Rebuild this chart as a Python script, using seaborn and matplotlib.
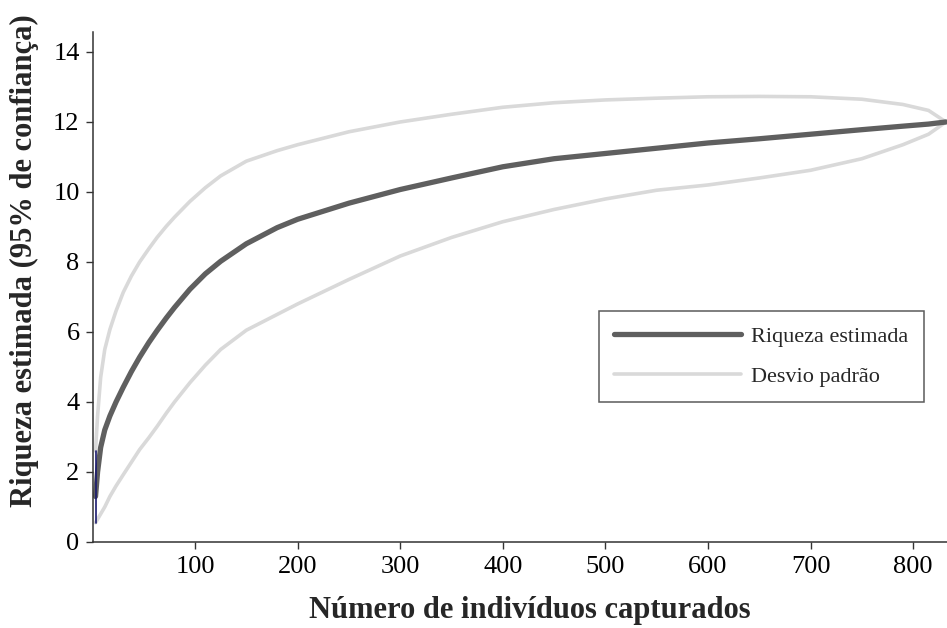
import numpy as np
import pandas as pd
import seaborn as sns
from matplotlib import pyplot as plt

# individuals captured (x) and richness curves
n_ind = [3, 5, 8, 12, 17, 23, 30, 38, 46, 55, 63, 72, 80, 95, 110, 125, 150, 180, 200, 250, 300,
         350, 400, 450, 500, 550, 600, 650, 700, 750, 790, 815, 832]
riqueza = [1.3, 2.0, 2.7, 3.2, 3.6, 4.0, 4.42, 4.87, 5.28, 5.7, 6.04, 6.4, 6.7, 7.22, 7.66, 8.02,
           8.52, 8.98, 9.22, 9.68, 10.07,
           10.4, 10.72, 10.95, 11.1, 11.25, 11.4, 11.52, 11.65, 11.78, 11.88, 11.94, 12.0]
desvio_sup = [2.6, 3.6, 4.7, 5.5, 6.07, 6.6, 7.13, 7.6, 8.0, 8.38, 8.7, 9.02, 9.28, 9.73, 10.12,
              10.46, 10.88, 11.18, 11.35, 11.72, 12.0,
              12.22, 12.42, 12.55, 12.63, 12.68, 12.72, 12.73, 12.72, 12.65, 12.5, 12.33, 12.0]
desvio_inf = [0.55, 0.65, 0.8, 1.0, 1.3, 1.6, 1.92, 2.28, 2.64, 2.98, 3.3, 3.68, 4.0, 4.55, 5.05,
              5.5, 6.05, 6.5, 6.8, 7.5, 8.17,
              8.7, 9.15, 9.5, 9.8, 10.05, 10.2, 10.4, 10.62, 10.95, 11.35, 11.65, 12.0]

x_ticks = [100, 200, 300, 400, 500, 600, 700, 800]
y_ticks = [0, 2, 4, 6, 8, 10, 12, 14]

df = pd.DataFrame({'n': n_ind, 'riq': riqueza, 'sup': desvio_sup, 'inf': desvio_inf})

sns.set_style('ticks')
plt.rcParams['font.family'] = ['Liberation Serif', 'DejaVu Serif']

fig = plt.figure(figsize=(9.47, 6.28), dpi=100)
ax = fig.add_axes([0.0987, 0.137, 0.9013, 0.812])

light = '#d9d9d9'
dark = '#5f5f5f'

sns.lineplot(data=df, x='n', y='sup', color=light, linewidth=2.6, ax=ax, label='Desvio padrão', sort=False)
sns.lineplot(data=df, x='n', y='inf', color=light, linewidth=2.6, ax=ax, sort=False)
sns.lineplot(data=df, x='n', y='riq', color=dark, linewidth=3.8, ax=ax, label='Riqueza estimada', sort=False)
# small vertical bar at the first sample
ax.plot([n_ind[0], n_ind[0]], [desvio_inf[0], desvio_sup[0]], color='#1a1a6e', linewidth=1.2)

ax.set_xlim(1, 833)
ax.set_ylim(0, 14.57)
ax.set_xticks(x_ticks)
ax.set_yticks(y_ticks)
ax.tick_params(labelsize=19, length=5, width=1, pad=5, colors='#333333', labelcolor='black')
for s in ['top', 'right']:
    ax.spines[s].set_visible(False)
for s in ['left', 'bottom']:
    ax.spines[s].set_color('#333333')
    ax.spines[s].set_linewidth(1.1)

ax.set_xlabel('Número de indivíduos capturados', fontsize=22, weight='bold', labelpad=13)
ax.set_ylabel('Riqueza estimada (95% de confiança)', fontsize=22, weight='bold', labelpad=10)
ax.xaxis.label.set_x(0.511)
ax.yaxis.label.set_y(0.551)

handles, labels = ax.get_legend_handles_labels()
leg = ax.legend(handles[::-1], labels[::-1], loc='upper left', bbox_to_anchor=(0.592, 0.453),
                fontsize=16, frameon=True, fancybox=False, edgecolor='#333333',
                handlelength=5.7, handletextpad=0.45, borderpad=0.7, labelspacing=0.86,
                borderaxespad=0)
leg.get_frame().set_linewidth(1.1)

fig.savefig('out.png', dpi=100)
